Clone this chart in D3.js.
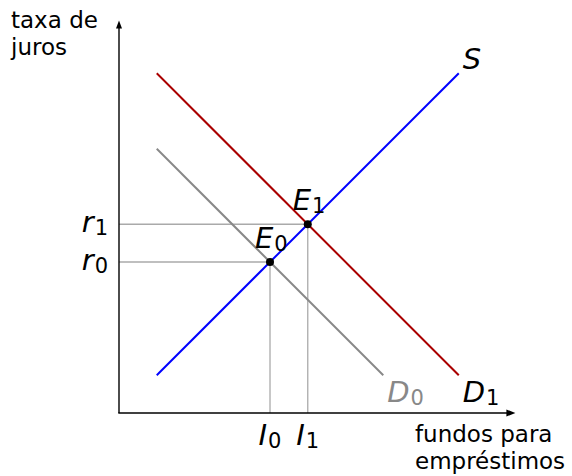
<!DOCTYPE html>
<html>
<head>
<meta charset="utf-8">
<script src="https://cdn.jsdelivr.net/npm/d3@7"></script>
<style>
  body { margin: 0; background: #fff; }
  text { font-family: "DejaVu Sans", sans-serif; }
</style>
</head>
<body>
<div id="chart"></div>
<script>
const w = 572;
const h = 476;

// curves: S, D0, D1 (quantity, rate)
const curveNames = ["S", "D", "D"];
const curveSubs = ["", "0", "1"];
const curveStart = [[1, 1], [1, 7], [1, 9]];
const curveEnd = [[9, 9], [7, 1], [9, 1]];
const curveColors = ["#0000ff", "#888888", "#aa0000"];
const curveLabelColors = ["#000", "#888888", "#000"];

// equilibria
const eqSubs = ["0", "1"];
const eqQuantity = [4, 5];
const eqRate = [4, 5];

const yTitle = ["taxa de", "juros"];
const xTitle = ["fundos para", "empréstimos"];

const xScale = d3.scaleLinear().domain([0, 10.5]).range([119, 515.4]);
const yScale = d3.scaleLinear().domain([0, 10.4]).range([413, 20.4]);

const svg = d3.select("#chart").append("svg")
    .attr("width", w)
    .attr("height", h);

// guide lines
eqQuantity.forEach((q, i) => {
    svg.append("line")
        .attr("x1", xScale(0)).attr("x2", xScale(q))
        .attr("y1", yScale(eqRate[i])).attr("y2", yScale(eqRate[i]))
        .attr("stroke", "#aaaaaa").attr("stroke-width", 1.3);
    svg.append("line")
        .attr("x1", xScale(q)).attr("x2", xScale(q))
        .attr("y1", yScale(eqRate[i])).attr("y2", yScale(0))
        .attr("stroke", "#aaaaaa").attr("stroke-width", 1.3);
});

// curves
curveNames.forEach((name, i) => {
    svg.append("line")
        .attr("x1", xScale(curveStart[i][0])).attr("y1", yScale(curveStart[i][1]))
        .attr("x2", xScale(curveEnd[i][0])).attr("y2", yScale(curveEnd[i][1]))
        .attr("stroke", curveColors[i]).attr("stroke-width", 2);
});

// axes with arrows
const x0 = xScale(0), y0 = yScale(0);
const xTip = xScale.range()[1], yTip = yScale.range()[1];
svg.append("line").attr("x1", x0).attr("y1", y0).attr("x2", x0).attr("y2", yTip + 6)
    .attr("stroke", "#000").attr("stroke-width", 1.4);
svg.append("line").attr("x1", x0 - 0.7).attr("y1", y0).attr("x2", xTip - 6).attr("y2", y0)
    .attr("stroke", "#000").attr("stroke-width", 1.4);
svg.append("path")
    .attr("d", `M${x0},${yTip} L${x0 + 3},${yTip + 8} L${x0 - 3},${yTip + 8} Z`)
    .attr("fill", "#000");
svg.append("path")
    .attr("d", `M${xTip},${y0} L${xTip - 9},${y0 + 3.5} L${xTip - 9},${y0 - 3.5} Z`)
    .attr("fill", "#000");

// equilibrium points
eqQuantity.forEach((q, i) => {
    svg.append("circle")
        .attr("cx", xScale(q)).attr("cy", yScale(eqRate[i]))
        .attr("r", 4).attr("fill", "#000");
});

function subLabel(x, y, main, sub, anchor, color) {
    const t = svg.append("text")
        .attr("x", x).attr("y", y)
        .attr("text-anchor", anchor)
        .attr("fill", color)
        .style("font-size", "29px");
    t.append("tspan").style("font-style", "italic").text(main);
    if (sub) t.append("tspan").style("font-size", "21px").attr("dx", 1).attr("dy", 3).text(sub);
    return t;
}

// curve labels
curveNames.forEach((name, i) => {
    const ex = xScale(curveEnd[i][0]), ey = yScale(curveEnd[i][1]);
    if (i === 0) subLabel(ex + 4, ey - 4, name, curveSubs[i], "start", curveLabelColors[i]);
    else subLabel(ex + 4, ey + 27, name, curveSubs[i], "start", curveLabelColors[i]);
});

// equilibrium labels
eqQuantity.forEach((q, i) => {
    subLabel(xScale(q) - 15, yScale(eqRate[i]) - 14, "E", eqSubs[i], "start", "#000");
    subLabel(xScale(0) - 11, yScale(eqRate[i]) + 8, "r", eqSubs[i], "end", "#000");
    subLabel(xScale(q), 445, "I", eqSubs[i], "middle", "#000");
});

// axis titles
yTitle.forEach((s, i) => {
    svg.append("text").attr("x", 11).attr("y", 28 + i * 27)
        .style("font-size", "23px").text(s);
});
xTitle.forEach((s, i) => {
    svg.append("text").attr("x", 415).attr("y", 442 + i * 27)
        .style("font-size", "23px").text(s);
});
</script>
</body>
</html>
